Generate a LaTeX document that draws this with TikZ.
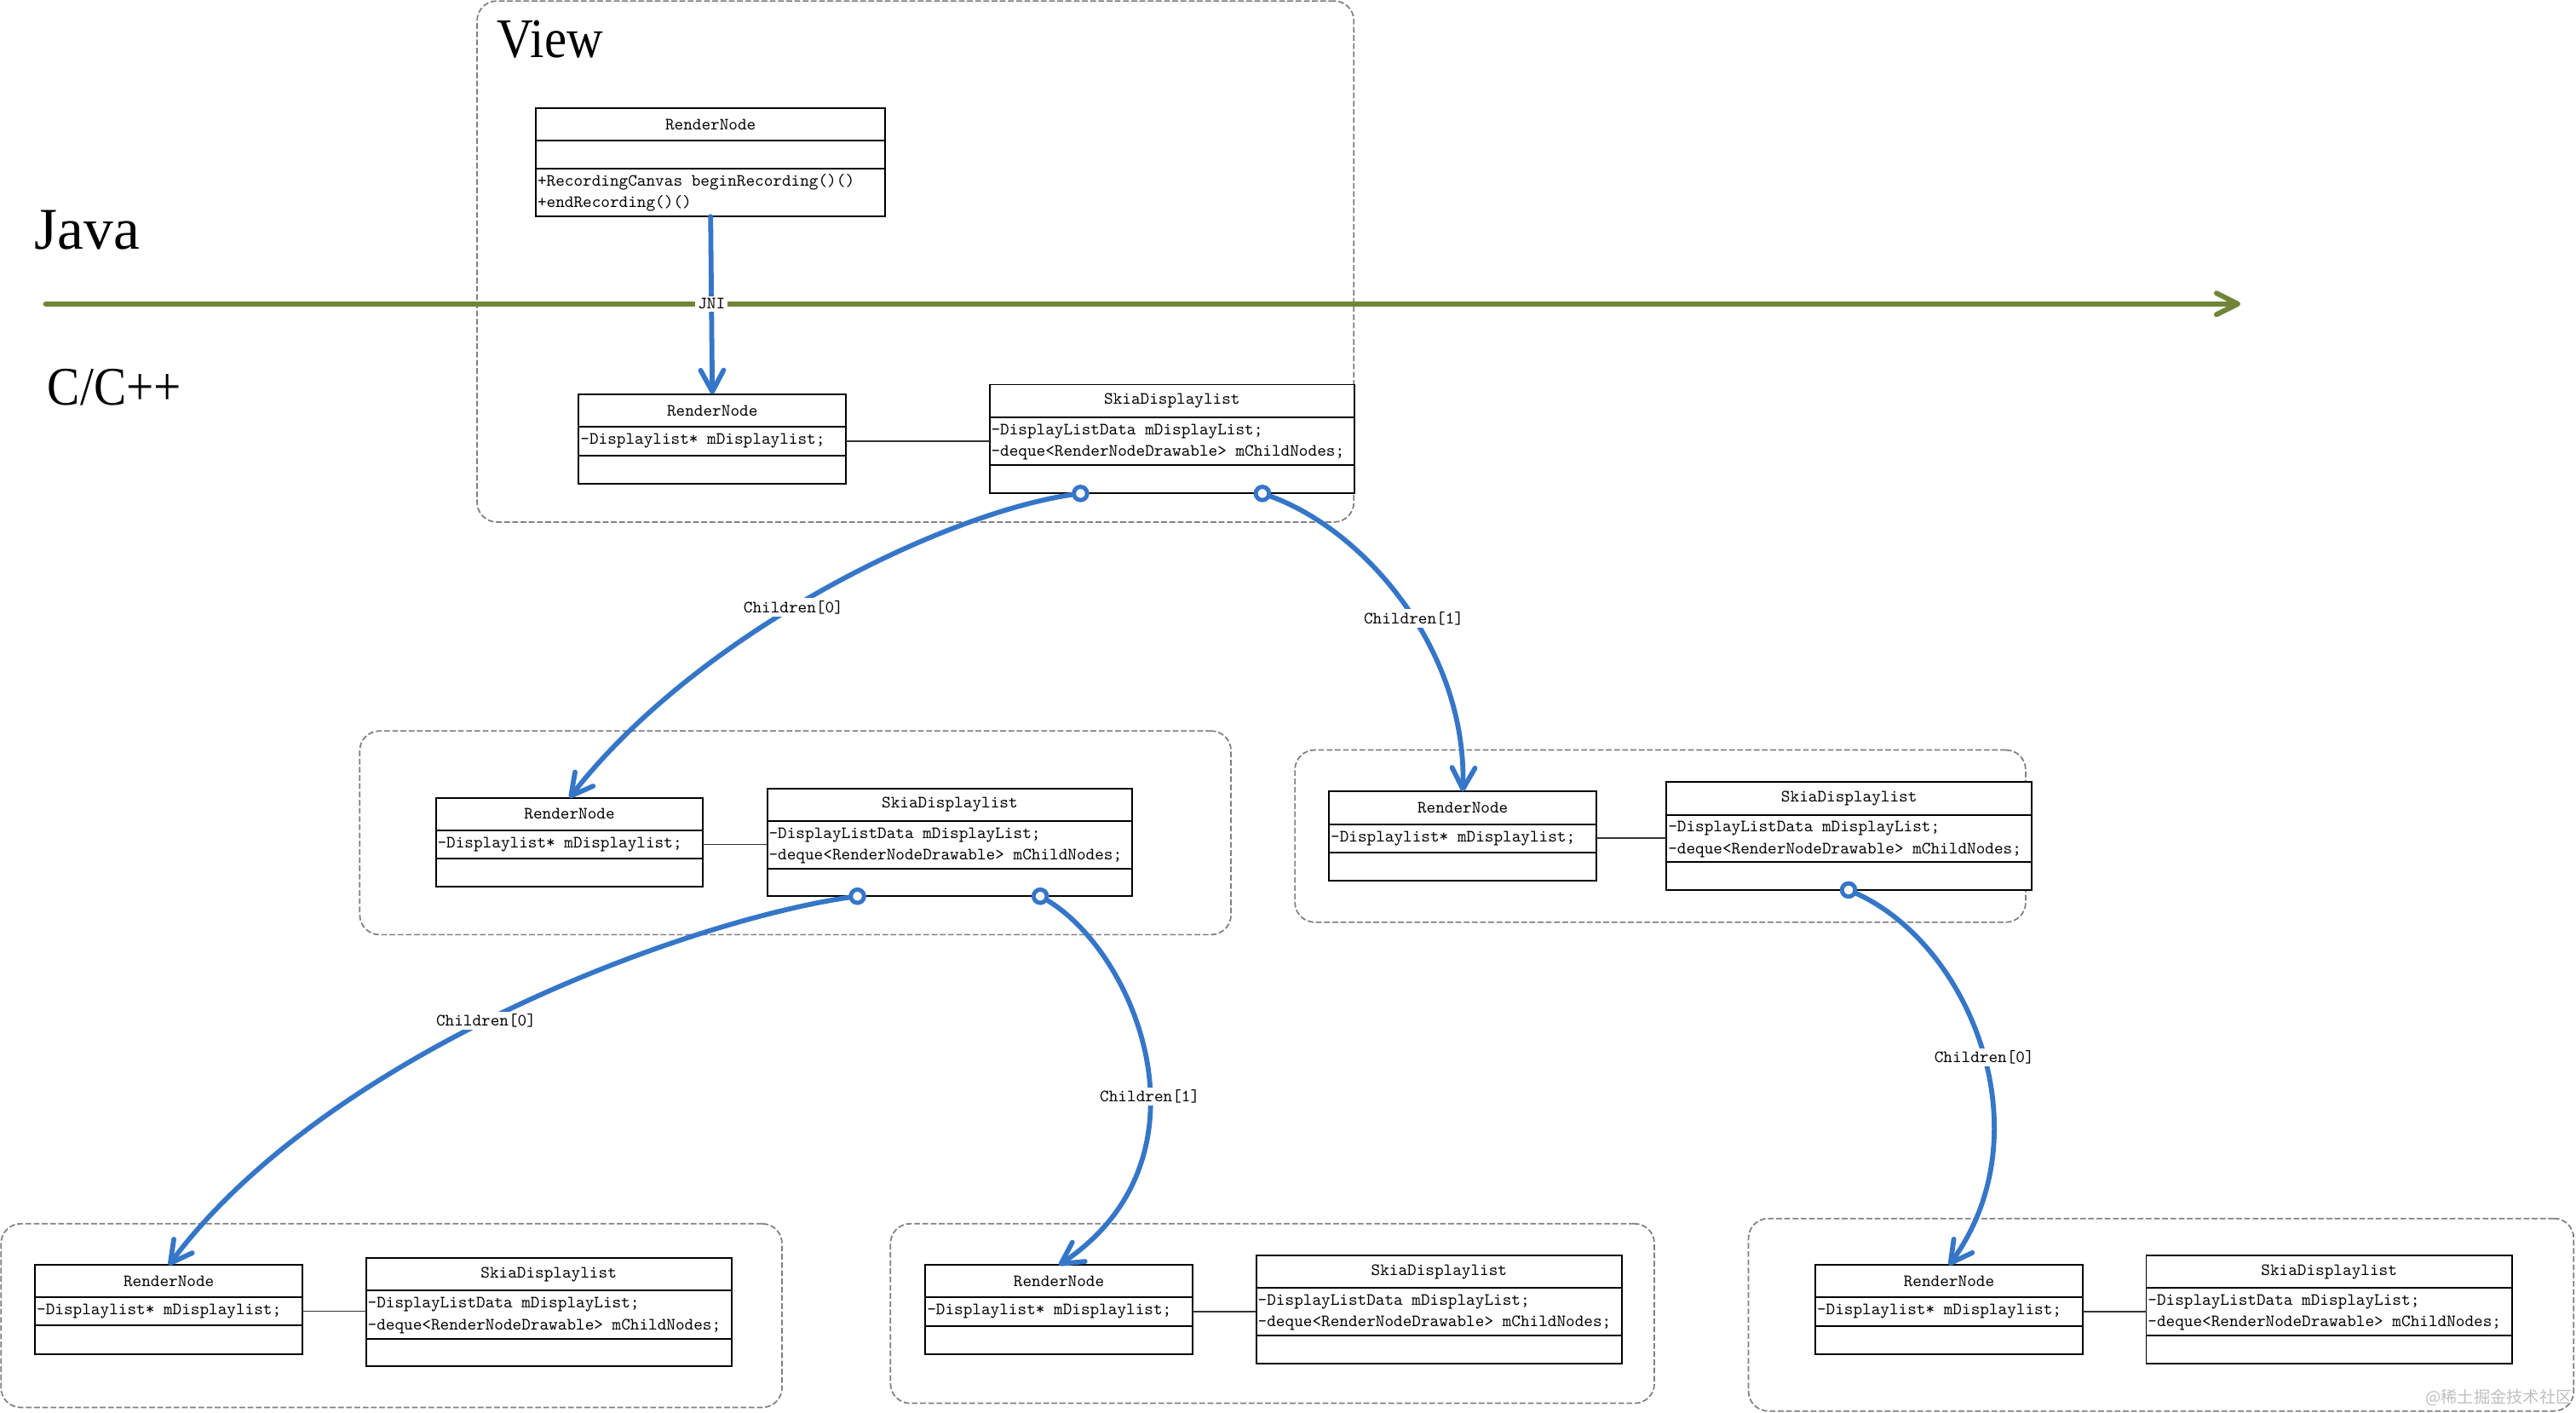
\documentclass[tikz,border=0pt]{standalone}
\usepackage{fontspec}
\newfontfamily\umlfont{Latin Modern Mono}
\newfontfamily\serifbig{Liberation Serif}
\newfontfamily\serifnarrow{Liberation Serif}[FakeStretch=0.9]
\newfontfamily\cjk{Noto Sans CJK SC}
\usetikzlibrary{arrows.meta}
\definecolor{linkblue}{RGB}{53,118,200}
\definecolor{axisgreen}{RGB}{112,133,55}
\definecolor{groupgray}{RGB}{128,128,128}
\tikzset{
  hdr/.style={draw=black, line width=1pt, inner sep=1pt, outer sep=0pt, fill=white, font=\umlfont\fontsize{10.5}{13}\selectfont},
  cmp/.style={draw=black, line width=1pt, inner sep=0pt, outer sep=0pt, fill=white},
  txt/.style={inner sep=0pt, outer sep=0pt, font=\umlfont\fontsize{10.5}{13}\selectfont},
  group/.style={draw=groupgray, line width=0.9pt, dash pattern=on 3.5pt off 1.5pt, rounded corners=12pt, inner sep=0pt, outer sep=0pt},
  assoc/.style={draw=black!80, line width=0.8pt},
  link/.style={draw=linkblue, line width=3pt, line cap=round, -{Straight Barb[length=13pt,width=14pt,round]}},
  axis/.style={draw=axisgreen, line width=3.1pt, line cap=round, -{Straight Barb[length=13pt,width=13pt,round]}},
  lbl/.style={fill=white, inner sep=1.5pt, font=\umlfont\fontsize{10.5}{13}\selectfont, text=black},
  knob/.style={circle, draw=linkblue, line width=2.5pt, fill=white, minimum size=8pt, inner sep=0pt, outer sep=0pt},
}
\newcommand\umlcls[8]{%
  \node[hdr, minimum width=#4, minimum height=#5, anchor=north west] (#1) at (#2,#3) {#8};
  \node[cmp, minimum width=#4, minimum height=#6, anchor=north] (#1a) at (#1.south) {};
  \node[cmp, minimum width=#4, minimum height=#7, anchor=north] (#1b) at (#1a.south) {};
}
\newcommand\rnattr{-Displaylist* mDisplaylist;}
\newcommand\sdattr{\begin{tabular}{@{}l@{}}-DisplayListData mDisplayList;\\-deque<RenderNodeDrawable> mChildNodes;\end{tabular}}
\begin{document}
\begin{tikzpicture}[x=1pt,y=-1pt]
\useasboundingbox (0,0) rectangle (1568,860.2);
% group frames
\node[group, anchor=north west, minimum width=533.7, minimum height=317.2] (G1) at (290.4,0.6) {};
\node[group, anchor=north west, minimum width=530.3, minimum height=124] (G2) at (219,445) {};
\node[group, anchor=north west, minimum width=444.8, minimum height=104.8] (G3) at (788.2,456.6) {};
\node[group, anchor=north west, minimum width=475.4, minimum height=111.8] (G4) at (0.6,745) {};
\node[group, anchor=north west, minimum width=465, minimum height=109.3] (G5) at (542,745) {};
\node[group, anchor=north west, minimum width=502.3, minimum height=117.2] (G6) at (1064.3,741.8) {};
% big labels
\node[anchor=base west, inner sep=0pt, font=\serifnarrow\fontsize{34}{34}\selectfont] (view) at (302.4,34.9) {View};
\node[anchor=base west, inner sep=0pt, font=\serifbig\fontsize{36}{36}\selectfont] (java) at (20.8,151.8) {Java};
\node[anchor=base west, inner sep=0pt, font=\serifnarrow\fontsize{33}{33}\selectfont] (cpp) at (28.8,246.4) {C/C++};
% classes
\umlcls{J}{326.2}{66}{212.7}{19.7}{17.2}{28.9}{RenderNode}
\node[txt, anchor=west] (Jm) at ([xshift=1pt]Jb.west) {\begin{tabular}{@{}l@{}}+RecordingCanvas beginRecording()()\\+endRecording()()\end{tabular}};
\umlcls{Ar}{352.3}{239.9}{162.6}{20.1}{17.2}{17.2}{RenderNode}
\umlcls{As}{602.3}{234.1}{222.2}{20.1}{28.7}{17.5}{SkiaDisplaylist}
\umlcls{Br}{265.3}{485.7}{162.7}{19.9}{17.2}{17}{RenderNode}
\umlcls{Bs}{467}{480.1}{222.2}{19.7}{29.1}{16.7}{SkiaDisplaylist}
\umlcls{Cr}{809}{481.9}{162.8}{19.9}{17.1}{17.2}{RenderNode}
\umlcls{Cs}{1014.4}{476.2}{222.3}{19.8}{28.9}{16.9}{SkiaDisplaylist}
\umlcls{Dr}{21.4}{770.2}{162.7}{19.7}{16.9}{17.7}{RenderNode}
\umlcls{Ds}{222.8}{766}{222.4}{19.7}{29.2}{16.6}{SkiaDisplaylist}
\umlcls{Er}{563.3}{770.2}{162.5}{19.7}{17.3}{17.3}{RenderNode}
\umlcls{Es}{764.7}{764.3}{222.5}{19.7}{28.9}{17.2}{SkiaDisplaylist}
\umlcls{Fr}{1105}{770.2}{162.7}{19.7}{17.3}{17.3}{RenderNode}
\umlcls{Fs}{1306.4}{764.3}{222.6}{19.7}{28.9}{17.2}{SkiaDisplaylist}
\foreach \n in {A,B,C,D,E,F}{
  \node[txt, anchor=west] (\n rt) at ([xshift=1pt]\n ra.west) {\rnattr};
  \node[txt, anchor=west] (\n st) at ([xshift=1pt]\n sa.west) {\sdattr};
  \draw[assoc] (\n ra.east) -- (\n ra.east -| \n sa.west);
}
% Java / C++ axis
\coordinate (axL) at (27.8,185);
\coordinate (axR) at (1363.7,185);
\draw[axis] (axL) -- (axR);
% connectors
\draw[link] (Jb.south) -- node[lbl, pos=0.492] (jni) {JNI} (Ar.north);
\node[knob] (k1) at (657.7,0 |- Asb.south) {};
\node[knob] (k2) at (768.4,0 |- Asb.south) {};
\node[knob] (k3) at (521.9,0 |- Bsb.south) {};
\node[knob] (k4) at (633.2,0 |- Bsb.south) {};
\node[knob] (k5) at (1125.2,0 |- Csb.south) {};
\draw[link] (k1) .. controls (575,312) and (425,385) .. node[lbl, pos=0.55] (l1) {Children[0]} (Br.north);
\draw[link] (k2) .. controls (830,322) and (893,395) .. node[lbl, pos=0.55] (l2) {Children[1]} (Cr.north);
\draw[link] (k3) .. controls (420,560) and (200,640) .. node[lbl, pos=0.53] (l3) {Children[0]} (Dr.north);
\draw[link] (k4) .. controls (692,580) and (742,705) .. node[lbl, pos=0.58] (l4) {Children[1]} (Er.north);
\draw[link] (k5) .. controls (1200,575) and (1245,690) .. node[lbl, pos=0.52] (l5) {Children[0]} (Fr.north);
% redraw knobs on top
\foreach \k in {k1,k2,k3,k4,k5}{\node[knob] at (\k) {};}
% watermark
\node[anchor=base east, inner sep=0pt, font=\cjk\fontsize{10}{10}\selectfont, text=black!25] (wm) at (1566,854.5) {@稀土掘金技术社区};
\end{tikzpicture}
\end{document}
